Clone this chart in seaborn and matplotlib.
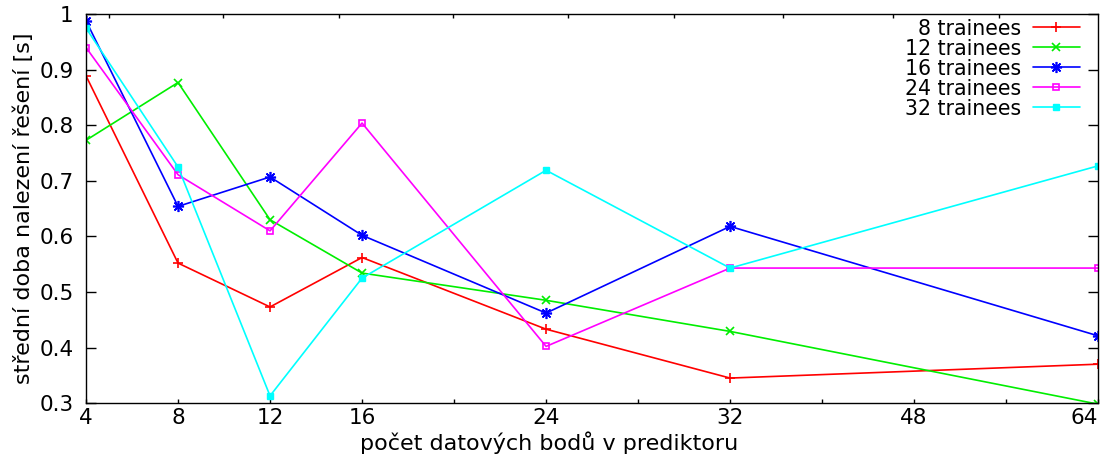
import numpy as np
import pandas as pd
import matplotlib
matplotlib.use('Agg')
import matplotlib.pyplot as plt
from matplotlib.ticker import FixedLocator, NullFormatter
import seaborn as sns

# data
points = [4, 8, 12, 16, 24, 32, 64]
t8 = [0.889, 0.552, 0.473, 0.562, 0.433, 0.345, 0.370]
t12 = [0.773, 0.877, 0.630, 0.534, 0.485, 0.429, 0.298]
t16 = [0.988, 0.654, 0.707, 0.602, 0.462, 0.618, 0.421]
t24 = [0.940, 0.711, 0.610, 0.804, 0.402, 0.543, 0.543]
t32 = [0.975, 0.725, 0.313, 0.525, 0.719, 0.543, 0.727]
series_labels = ['8 trainees', '12 trainees', '16 trainees', '24 trainees', '32 trainees']
x_major = [4, 8, 12, 16, 24, 32, 48, 64]
x_minor = [20, 28, 40, 56]
y_ticks = [0.3, 0.4, 0.5, 0.6, 0.7, 0.8, 0.9, 1.0]
y_ticklabels = ['0.3', '0.4', '0.5', '0.6', '0.7', '0.8', '0.9', '1']

df = pd.DataFrame({
    'points': points * 5,
    'time': t8 + t12 + t16 + t24 + t32,
    'series': [s for s in series_labels for _ in points],
})

# the x axis is piecewise linear: step 4 up to 32, step 8 above
brk_x = [4, 32, 64]
brk_u = [0, 7, 11]


def fwd(x):
    return np.interp(x, brk_x, brk_u, left=np.nan, right=np.nan)


def inv(u):
    return np.interp(u, brk_u, brk_x)


styles = {
    '8 trainees': dict(color='#ff0000', marker='+', ms=7, mfc='#ff0000', mew=1.2),
    '12 trainees': dict(color='#00ee00', marker='x', ms=6, mfc='#00ee00', mew=1.2),
    '16 trainees': dict(color='#0000ff', marker=(8, 2, 0), ms=8, mfc='#0000ff', mew=1.2),
    '24 trainees': dict(color='#ff00ff', marker='s', ms=5, mfc='none', mew=1.2),
    '32 trainees': dict(color='#00ffff', marker='s', ms=4, mfc='#00ffff', mew=1.0),
}

sns.set_style('ticks')
plt.rcParams['font.family'] = ['DejaVu Sans']
plt.rcParams['text.color'] = 'black'
plt.rcParams['axes.labelcolor'] = 'black'
plt.rcParams['xtick.color'] = 'black'
plt.rcParams['ytick.color'] = 'black'

fig, ax = plt.subplots(figsize=(11.07, 4.57), dpi=100)
fig.subplots_adjust(left=0.0777, right=0.992, top=0.969, bottom=0.118)

for name in series_labels:
    st = styles[name]
    sub = df[df['series'] == name]
    sns.lineplot(data=sub, x='points', y='time', ax=ax, label=name,
                 color=st['color'], marker=st['marker'], markersize=st['ms'],
                 markerfacecolor=st['mfc'], markeredgecolor=st['color'],
                 markeredgewidth=st['mew'], linewidth=1.2)

ax.set_xscale('function', functions=(fwd, inv))
ax.set_xlim(4, 64)
ax.set_ylim(0.3, 1.0)
ax.xaxis.set_major_locator(FixedLocator(x_major))
ax.xaxis.set_minor_locator(FixedLocator(x_minor))
ax.xaxis.set_minor_formatter(NullFormatter())
ax.set_xticklabels([str(v) for v in x_major])
ax.get_xticklabels()[-1].set_ha('right')
ax.set_yticks(y_ticks)
ax.set_yticklabels(y_ticklabels)

ax.tick_params(axis='x', which='both', direction='in', length=3, width=1,
               labelsize=15.5, pad=3.5, bottom=True, top=False)
ax.tick_params(axis='y', which='both', direction='in', length=7, width=1,
               labelsize=15.5, pad=9, left=True, right=True)

for sp in ax.spines.values():
    sp.set_visible(True)
    sp.set_linewidth(1.0)
    sp.set_color('black')

# top axis ticks (unlabelled, separate spacing)
top = ax.twiny()
top.set_xlim(0, 1)
top.set_xticks([0.023, 0.135, 0.250, 0.363, 0.476, 0.581, 0.689, 0.797, 0.902])
top.tick_params(axis='x', direction='in', length=3, width=1, labeltop=False, top=True)
for sp in top.spines.values():
    sp.set_visible(False)

ax.set_xlabel('počet datových bodů v prediktoru', fontsize=16)
ax.xaxis.set_label_coords(0.458, -0.072)
ax.set_ylabel('střední doba nalezení řešení [s]', fontsize=16, labelpad=4)

leg = ax.legend(loc='upper right', frameon=False, markerfirst=False, fontsize=14.8,
                handlelength=2.3, handletextpad=0.55, labelspacing=0.0,
                borderaxespad=0.0, bbox_to_anchor=(0.99, 1.01), numpoints=1)
for t in leg.get_texts():
    t.set_ha('right')
leg._legend_box.align = 'right'

plt.savefig('out.png', dpi=100)
plt.close()
